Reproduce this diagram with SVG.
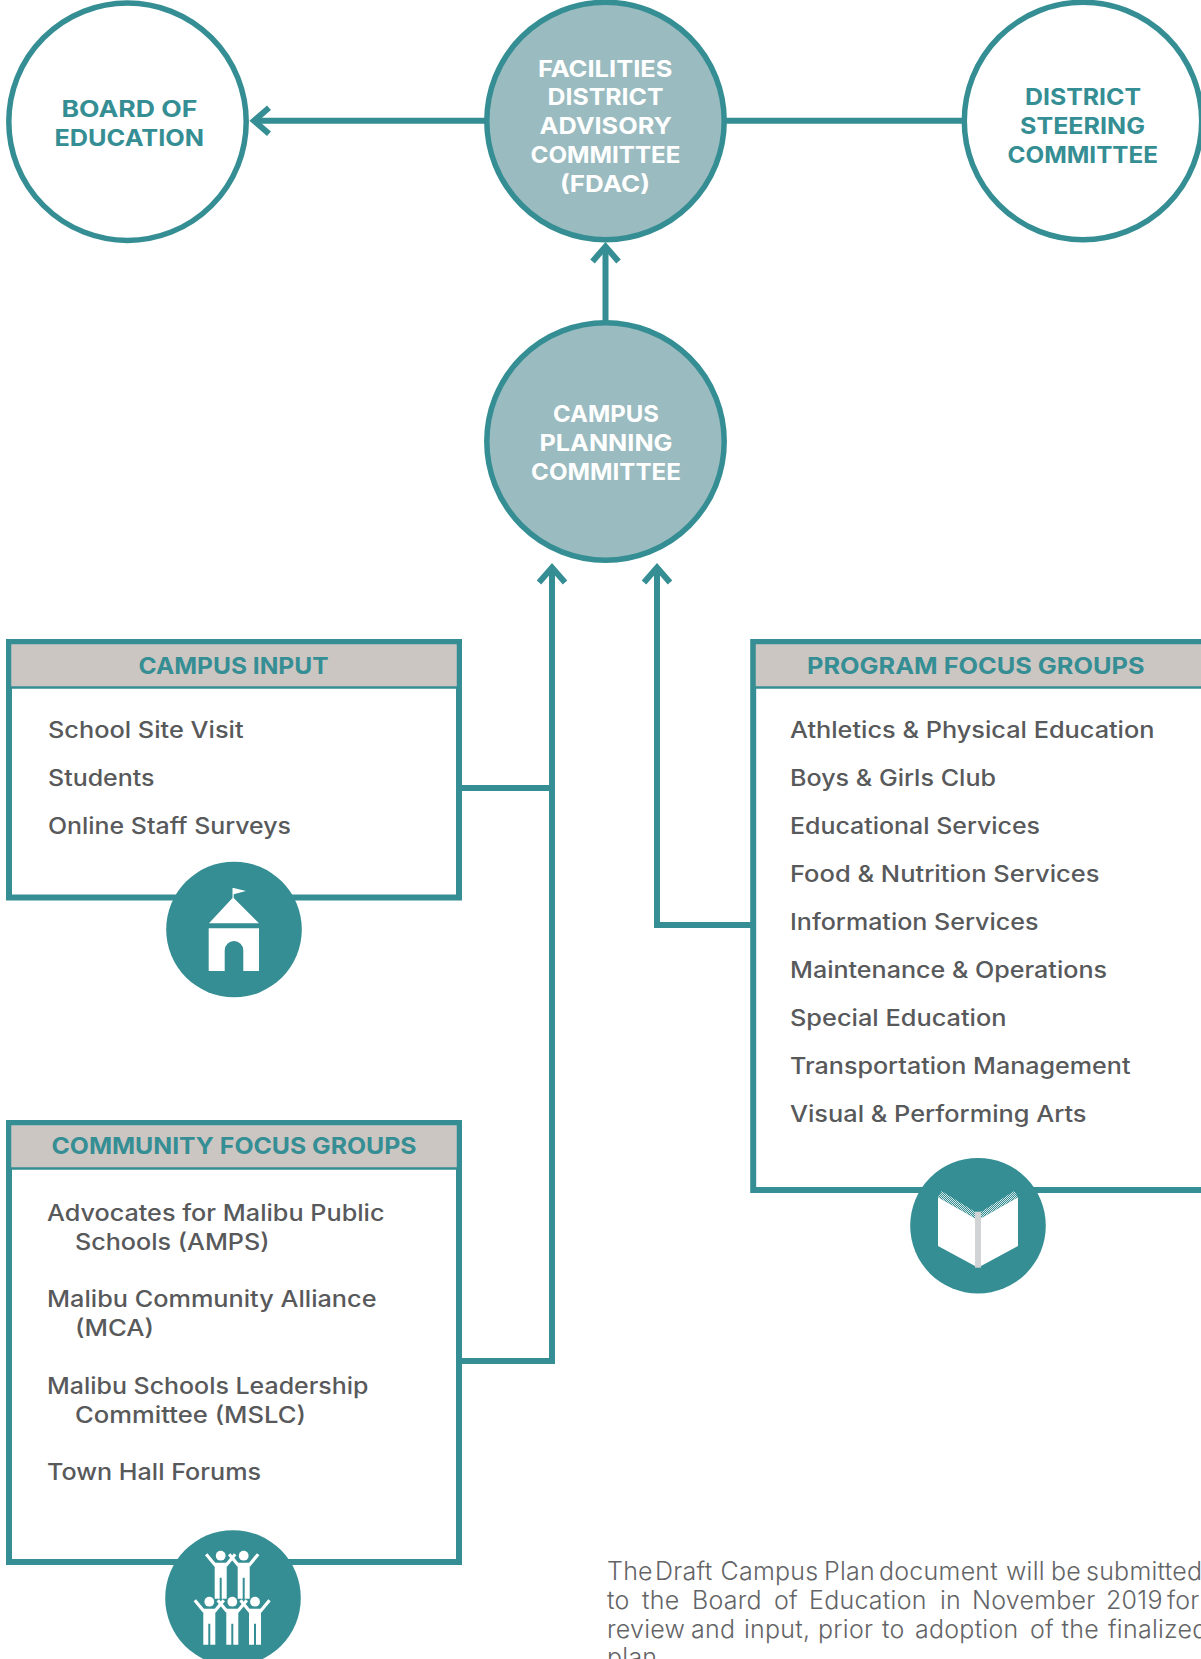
<svg xmlns="http://www.w3.org/2000/svg" xmlns:xlink="http://www.w3.org/1999/xlink" width="1201" height="1659" viewBox="0 0 1201 1659">
<style>
text{font-family:"Inter","Liberation Sans",sans-serif}
.c{stroke:#358e93;stroke-width:5.5;fill:#fff}
.d{fill:#9abbbf}
.conn{fill:none;stroke:#358e93;stroke-width:6}
.h{font-size:23px;font-weight:700;fill:#358e93;text-anchor:start}
.w{fill:#fff}
.l{font-size:22.5px;font-weight:500;fill:#58595b}
.p{font-size:25px;font-weight:300;fill:#636466;letter-spacing:.25px}
.box{fill:#fff;stroke:#358e93;stroke-width:6}
.hdr{fill:#ccc6c3;stroke:#358e93;stroke-width:2.5}
.ic{fill:#358e93}
.wf{fill:#fff}
</style>
<defs>
<marker id="chev" markerUnits="userSpaceOnUse" markerWidth="40" markerHeight="40" viewBox="-30 -20 40 40" refX="0" refY="0" orient="auto">
<path d="M-15,-13L0,0L-15,13" fill="none" stroke="#358e93" stroke-width="6"/>
</marker>
<pattern id="hatch" width="2" height="2" patternUnits="userSpaceOnUse"><rect width="2" height="2" fill="#358e93"/><rect width="1" height="1" fill="#d5e6e7"/><rect x="1" y="1" width="1" height="1" fill="#d5e6e7"/></pattern>
<g id="person">
<circle cx="0" cy="0" r="4.9" fill="#fff"/>
<path d="M-6,7H6V43H1V22H-1V43H-6Z" fill="#fff"/>
<path d="M-5,10L-14.5,-1.5M5,10L14.5,-1.5" stroke="#fff" stroke-width="3.2" fill="none"/>
</g>
</defs>
<g id="connectors">
<path class="conn" d="M485,120.7H254" marker-end="url(#chev)"/>
<path class="conn" d="M726,120.7H963"/>
<path class="conn" d="M605.5,323V246.5" marker-end="url(#chev)"/>
<path class="conn" d="M462,788H552"/>
<path class="conn" d="M462,1361H552V567.5" marker-end="url(#chev)"/>
<path class="conn" d="M751,925H657V567.5" marker-end="url(#chev)"/>
</g>
<g id="board-of-education">
<circle class="c" cx="127.5" cy="121.7" r="118.7"/>
<text class="h" x="61.5" y="117" textLength="136" lengthAdjust="spacingAndGlyphs">BOARD OF</text>
<text class="h" x="54.5" y="146" textLength="149.5" lengthAdjust="spacingAndGlyphs">EDUCATION</text>
</g>
<g id="fdac">
<circle class="c d" cx="605.5" cy="121" r="118.7"/>
<text class="h w" x="538" y="77" textLength="134.5" lengthAdjust="spacingAndGlyphs">FACILITIES</text>
<text class="h w" x="547.5" y="105" textLength="116" lengthAdjust="spacingAndGlyphs">DISTRICT</text>
<text class="h w" x="539.5" y="134" textLength="132.5" lengthAdjust="spacingAndGlyphs">ADVISORY</text>
<text class="h w" x="530.5" y="163" textLength="150" lengthAdjust="spacingAndGlyphs">COMMITTEE</text>
<text class="h w" x="560" y="192" textLength="90" lengthAdjust="spacingAndGlyphs">(FDAC)</text>
</g>
<g id="district-steering-committee">
<circle class="c" cx="1083" cy="121" r="118.7"/>
<text class="h" x="1025" y="105" textLength="116" lengthAdjust="spacingAndGlyphs">DISTRICT</text>
<text class="h" x="1020" y="134" textLength="125" lengthAdjust="spacingAndGlyphs">STEERING</text>
<text class="h" x="1007.5" y="163" textLength="150.5" lengthAdjust="spacingAndGlyphs">COMMITTEE</text>
</g>
<g id="campus-planning-committee">
<circle class="c d" cx="605.5" cy="441.5" r="118.7"/>
<text class="h w" x="553" y="422" textLength="106" lengthAdjust="spacingAndGlyphs">CAMPUS</text>
<text class="h w" x="539.5" y="451" textLength="133" lengthAdjust="spacingAndGlyphs">PLANNING</text>
<text class="h w" x="531" y="480" textLength="150" lengthAdjust="spacingAndGlyphs">COMMITTEE</text>
</g>
<g id="campus-input">
<rect class="box" x="9" y="642" width="450" height="255.5"/>
<rect class="hdr" x="10" y="643" width="448" height="44.5"/>
<text class="h" x="138.5" y="674" textLength="190" lengthAdjust="spacingAndGlyphs">CAMPUS INPUT</text>
<text class="l" x="48" y="738" textLength="195.5" lengthAdjust="spacingAndGlyphs">School Site Visit</text>
<text class="l" x="48" y="786" textLength="106.5" lengthAdjust="spacingAndGlyphs">Students</text>
<text class="l" x="48" y="834" textLength="243" lengthAdjust="spacingAndGlyphs">Online Staff Surveys</text>
<circle class="ic" cx="234" cy="929.5" r="67.8"/>
<path class="wf" d="M232.5,888H233.7L246,891L233.7,894.3V898L259,923.3H209L232.5,898Z"/>
<path class="wf" d="M208.7,928.3H259V971H243.3V950.3A9.3,9.3 0 0 0 224.7,950.3V971H208.7Z"/>
</g>
<g id="program-focus-groups">
<rect class="box" x="753.2" y="642" width="460" height="548"/>
<rect class="hdr" x="754.5" y="643" width="458" height="44.5"/>
<text class="h" x="807" y="674" textLength="337.5" lengthAdjust="spacingAndGlyphs">PROGRAM FOCUS GROUPS</text>
<text class="l" x="790" y="738" textLength="364.5" lengthAdjust="spacingAndGlyphs">Athletics &amp; Physical Education</text>
<text class="l" x="790" y="786" textLength="206" lengthAdjust="spacingAndGlyphs">Boys &amp; Girls Club</text>
<text class="l" x="790" y="834" textLength="250" lengthAdjust="spacingAndGlyphs">Educational Services</text>
<text class="l" x="790" y="882" textLength="309.5" lengthAdjust="spacingAndGlyphs">Food &amp; Nutrition Services</text>
<text class="l" x="790" y="930" textLength="248.5" lengthAdjust="spacingAndGlyphs">Information Services</text>
<text class="l" x="790" y="978" textLength="317" lengthAdjust="spacingAndGlyphs">Maintenance &amp; Operations</text>
<text class="l" x="790" y="1026" textLength="216.5" lengthAdjust="spacingAndGlyphs">Special Education</text>
<text class="l" x="790" y="1074" textLength="340.5" lengthAdjust="spacingAndGlyphs">Transportation Management</text>
<text class="l" x="790" y="1122" textLength="296.5" lengthAdjust="spacingAndGlyphs">Visual &amp; Performing Arts</text>
<circle class="ic" cx="978" cy="1225.7" r="67.8"/>
<path fill="url(#hatch)" d="M938,1197L941.7,1191L975,1211.7V1218ZM1018,1197L1014.3,1191L981,1211.7V1218Z"/>
<path class="wf" d="M938,1197.3L975,1218.3V1266L938,1246ZM1018,1197.3L981,1218.3V1266L1018,1246Z"/>
<rect x="975" y="1211.7" width="6" height="56" fill="#d1d3d4"/>
</g>
<g id="community-focus-groups">
<rect class="box" x="9" y="1123" width="450" height="439"/>
<rect class="hdr" x="10" y="1124" width="448" height="44.5"/>
<text class="h" x="51.5" y="1154" textLength="365" lengthAdjust="spacingAndGlyphs">COMMUNITY FOCUS GROUPS</text>
<text class="l" x="47" y="1221" textLength="337.5" lengthAdjust="spacingAndGlyphs">Advocates for Malibu Public</text>
<text class="l" x="75" y="1250" textLength="194.5" lengthAdjust="spacingAndGlyphs">Schools (AMPS)</text>
<text class="l" x="47" y="1307" textLength="329.5" lengthAdjust="spacingAndGlyphs">Malibu Community Alliance</text>
<text class="l" x="75" y="1336" textLength="79" lengthAdjust="spacingAndGlyphs">(MCA)</text>
<text class="l" x="47" y="1393.5" textLength="321.5" lengthAdjust="spacingAndGlyphs">Malibu Schools Leadership</text>
<text class="l" x="75" y="1423" textLength="231" lengthAdjust="spacingAndGlyphs">Committee (MSLC)</text>
<text class="l" x="47" y="1480" textLength="214" lengthAdjust="spacingAndGlyphs">Town Hall Forums</text>
<circle class="ic" cx="233" cy="1598" r="67.8"/>
<use xlink:href="#person" href="#person" x="220.7" y="1555.7"/>
<use xlink:href="#person" href="#person" x="243.7" y="1555.7"/>
<use xlink:href="#person" href="#person" x="209.3" y="1601.7"/>
<use xlink:href="#person" href="#person" x="232.3" y="1601.7"/>
<use xlink:href="#person" href="#person" x="255" y="1601.7"/>
</g>
<g id="note">
<text class="p" y="1580"><tspan x="607">The </tspan><tspan x="655">Draft </tspan><tspan x="720.5">Campus </tspan><tspan x="824">Plan </tspan><tspan x="879">document </tspan><tspan x="1006">will </tspan><tspan x="1051">be </tspan><tspan x="1086">submitted</tspan></text>
<text class="p" y="1609"><tspan x="607">to </tspan><tspan x="642">the </tspan><tspan x="692">Board </tspan><tspan x="774">of </tspan><tspan x="809">Education </tspan><tspan x="940">in </tspan><tspan x="972">November </tspan><tspan x="1106">2019 </tspan><tspan x="1167">for</tspan></text>
<text class="p" y="1638"><tspan x="607">review </tspan><tspan x="691">and </tspan><tspan x="744">input, </tspan><tspan x="818">prior </tspan><tspan x="882">to </tspan><tspan x="915">adoption </tspan><tspan x="1030">of </tspan><tspan x="1061.5">the </tspan><tspan x="1108">finalized</tspan></text>
<text class="p" x="607" y="1666">plan.</text>
</g>
</svg>
